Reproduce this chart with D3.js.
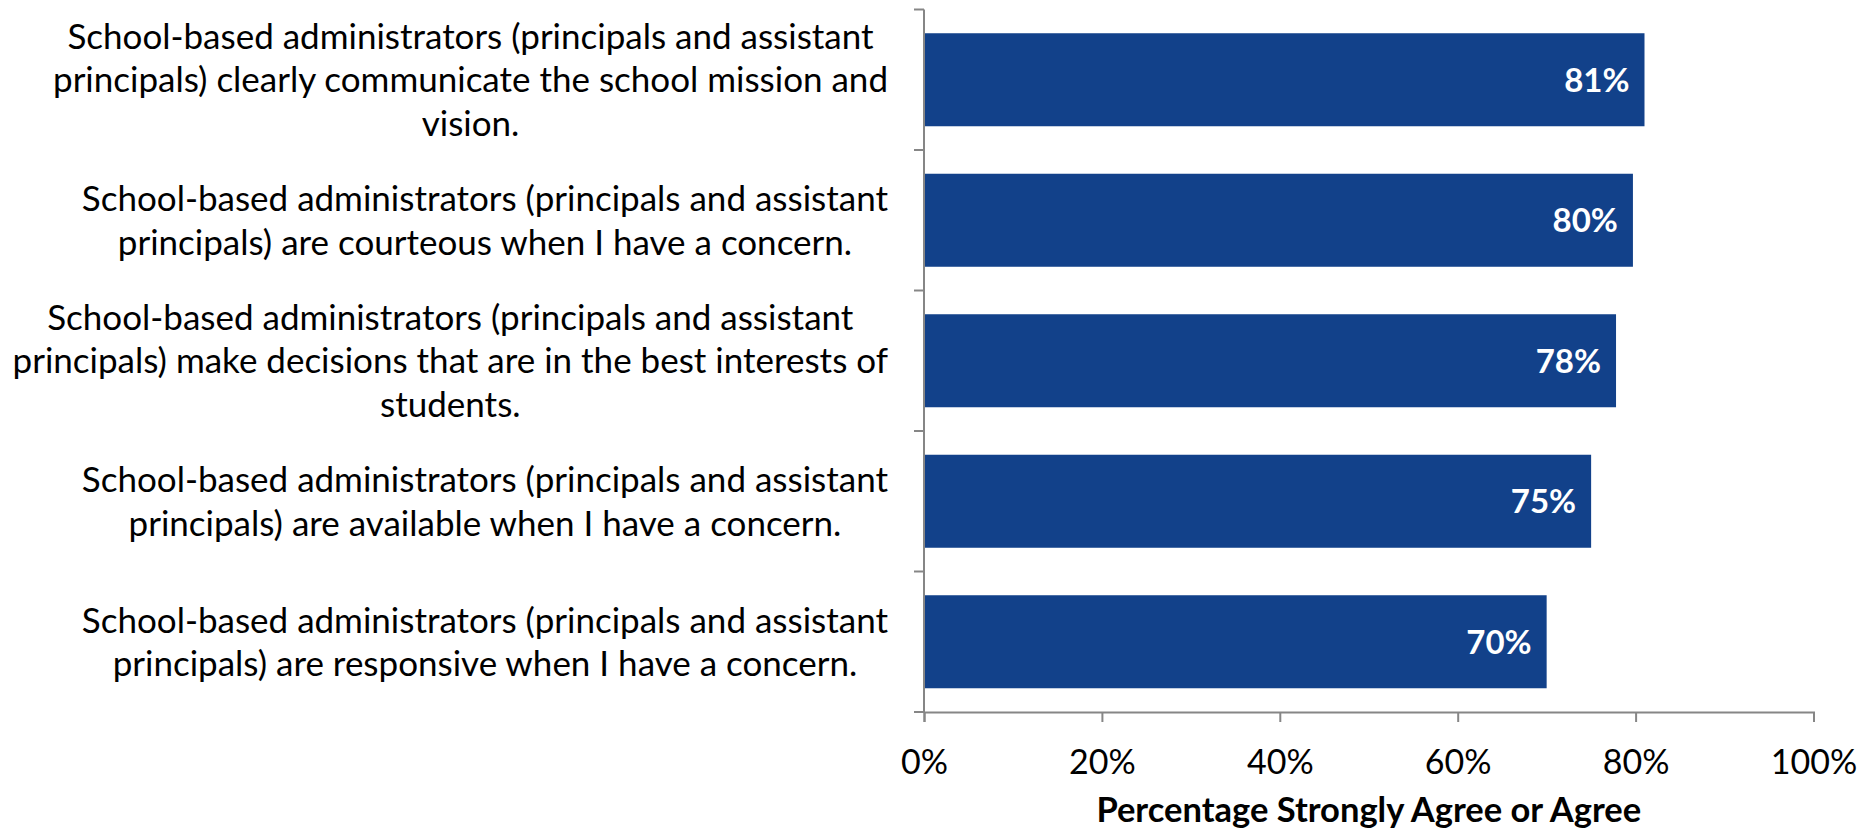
<!DOCTYPE html>
<html lang="en">
<head>
<meta charset="UTF-8">
<title>Chart</title>
<style>
    body { margin: 0; background: #fff; }
    svg { display: block; }
    text { font-family: Lato, "Open Sans", sans-serif; }
</style>
</head>
<body>
<svg></svg>
<script src="https://d3js.org/d3.v7.min.js"></script>
<script>
var categories = [
    ["School-based administrators (principals and assistant", "principals) clearly communicate the school mission and", "vision."],
    ["School-based administrators (principals and assistant", "principals) are courteous when I have a concern."],
    ["School-based administrators (principals and assistant", "principals) make decisions that are in the best interests of", "students."],
    ["School-based administrators (principals and assistant", "principals) are available when I have a concern."],
    ["School-based administrators (principals and assistant", "principals) are responsive when I have a concern."]
];
var values = [81, 79.7, 77.8, 75, 70];
var xTicks = [0, 20, 40, 60, 80, 100];
var xTitle = "Percentage Strongly Agree or Agree";

var svgWidth = 1867, svgHeight = 830;
var margin = { top: 9.5, left: 924, right: 53.5, bottom: 118 };
var width = svgWidth - margin.left - margin.right;
var height = svgHeight - margin.top - margin.bottom;

var svg = d3.select("svg").attr("width", svgWidth).attr("height", svgHeight);
var g = svg.append("g").attr("transform", "translate(" + margin.left + "," + margin.top + ")");

var x = d3.scaleLinear().domain([0, 100]).range([0, width]);
var y = d3.scaleBand().domain(d3.range(values.length)).range([0, height])
    .paddingInner(0.338).paddingOuter(0.169);

// bars
g.selectAll(".bar").data(values).enter().append("rect")
    .attr("x", 0)
    .attr("y", function(d, i) { return y(i); })
    .attr("width", function(d) { return x(d); })
    .attr("height", y.bandwidth())
    .attr("fill", "#12418a");

// value labels
g.selectAll(".val").data(values).enter().append("text")
    .attr("x", function(d) { return x(d) - 15; })
    .attr("y", function(d, i) { return y(i) + y.bandwidth() / 2; })
    .attr("dy", "0.36em")
    .attr("text-anchor", "end")
    .attr("fill", "#fff")
    .attr("font-weight", "bold")
    .attr("font-size", 33)
    .text(function(d) { return Math.round(d) + "%"; });

// x axis
var xAxis = g.append("g")
    .attr("transform", "translate(0," + height + ")")
    .call(d3.axisBottom(x).tickValues(xTicks).tickSize(10)
        .tickFormat(function(d) { return d + "%"; }));
xAxis.selectAll("text")
    .attr("y", 50).attr("dy", "0.36em")
    .attr("font-size", 34).attr("fill", "#000")
    .style("font-family", "Lato, 'Open Sans', sans-serif");
xAxis.selectAll("line").attr("stroke", "#868686").attr("stroke-width", 2);
xAxis.select(".domain").attr("stroke", "#868686").attr("stroke-width", 2);

// y axis: line with ticks at band boundaries
var step = y.step();
var bounds = d3.range(values.length + 1).map(function(i) {
    return i === 0 ? 0 : (i === values.length ? height : y(i) - (step - y.bandwidth()) / 2);
});
g.append("line").attr("x1", 0).attr("x2", 0).attr("y1", 0).attr("y2", height)
    .attr("stroke", "#868686").attr("stroke-width", 2);
g.selectAll(".ytick").data(bounds).enter().append("line")
    .attr("x1", -10).attr("x2", 0)
    .attr("y1", function(d) { return d; }).attr("y2", function(d) { return d; })
    .attr("stroke", "#868686").attr("stroke-width", 2);

// category labels: centred block, right edge aligned
var lineH = 43.5;
var labelRight = -36;
categories.forEach(function(lines, i) {
    var t = g.append("text")
        .attr("font-size", 35)
        .attr("fill", "#000")
        .attr("text-anchor", "middle");
    var cy = y(i) + y.bandwidth() / 2;
    var spans = lines.map(function(l, j) {
        return t.append("tspan")
            .attr("y", cy + (j - (lines.length - 1) / 2) * lineH)
            .attr("dy", "0.36em")
            .text(l);
    });
    var w = d3.max(spans, function(s) { return s.node().getComputedTextLength(); });
    spans.forEach(function(s) { s.attr("x", labelRight - w / 2); });
});

// axis title
g.append("text")
    .attr("x", width / 2)
    .attr("y", height + 98)
    .attr("dy", "0.36em")
    .attr("text-anchor", "middle")
    .attr("font-weight", "bold")
    .attr("font-size", 34.5)
    .attr("fill", "#000")
    .text(xTitle);
</script>
</body>
</html>
